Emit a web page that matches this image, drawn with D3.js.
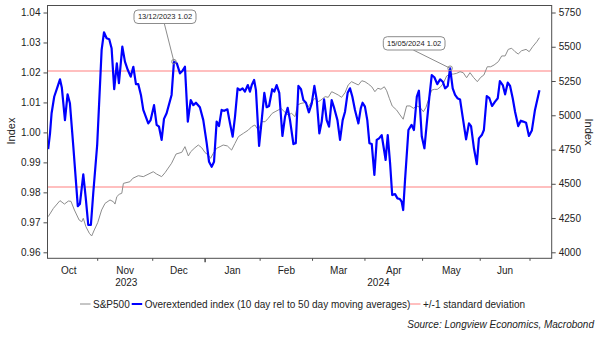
<!DOCTYPE html>
<html><head><meta charset="utf-8">
<script src="https://cdn.jsdelivr.net/npm/d3@7"></script>
<style>
body{margin:0;background:#fff;}
svg{display:block;font-family:"Liberation Sans",Arial,sans-serif;}
</style></head>
<body><svg id="c" width="602" height="338"></svg>
<script>
// trading-day index since 2 Oct 2023
const monthLabels = ["Oct","Nov","Dec","Jan","Feb","Mar","Apr","May","Jun"];
const monthStart  = [0,22,43,63,84,104,124,146,168,187];
const yearLabels = ["2023","2024"];
const leftTicks = [0.96,0.97,0.98,0.99,1.00,1.01,1.02,1.03,1.04];
const rightTicks = [4000,4250,4500,4750,5000,5250,5500,5750];
const bandUpper = 1.0205, bandLower = 0.9818;

const blueDay = [3.1,3.8,4.4,5.4,6.6,7.6,8.3,9.5,10.5,11.4,12.7,14.4,15.2,16.5,17.4,18.4,19.4,20.3,21.8,23.5,24.4,25.4,26.4,27.3,28.3,29.3,30.1,31.4,32.4,33.5,34.6,35.6,36.6,37.5,38.5,39.4,41.3,42.2,43.5,44.5,45.4,46.4,47.3,48.3,50.2,51.1,52.2,53.4,54.4,55.3,56.4,57.5,58.5,59.5,61.0,62.3,63.6,64.5,65.5,66.4,67.4,68.3,69.3,70.3,71.5,72.5,73.5,74.4,75.4,76.3,77.3,78.2,79.3,80.1,80.8,81.7,82.4,83.6,84.6,85.6,86.5,87.4,88.6,89.4,90.3,91.3,92.5,93.5,94.5,95.4,96.7,97.6,98.6,99.6,100.5,101.5,102.6,103.7,104.7,105.6,106.6,107.5,108.4,109.4,110.3,111.3,112.3,113.5,114.5,115.5,116.4,117.4,118.3,119.2,120.2,121.5,122.4,123.1,124.0,124.9,125.7,126.6,127.6,128.5,129.4,130.4,131.0,131.9,132.7,133.6,134.4,135.5,136.4,137.3,138.0,138.6,139.3,140.6,141.8,142.7,143.8,144.6,145.7,146.7,147.6,148.6,149.5,150.5,151.6,152.7,153.7,154.6,155.6,156.5,157.5,158.4,159.3,160.3,161.3,162.6,163.7,164.5,165.6,166.7,167.5,168.6,169.4,170.5,171.5,172.5,173.6,174.7,175.5,176.6,177.5,178.5,179.4,180.4,181.3,182.5,183.5,184.4,185.5,186.6,187.7,188.9,190.6];
const blueVal = [0.9944,0.9997,1.0064,1.0119,1.0150,1.0177,1.0150,1.0041,1.0127,1.0097,0.9952,0.9754,0.9761,0.9860,0.9785,0.9691,0.9691,0.9797,0.9958,1.0275,1.0334,1.0314,1.0311,1.0281,1.0144,1.0230,1.0164,1.0286,1.0236,1.0208,1.0186,1.0219,1.0161,1.0161,1.0125,1.0075,1.0030,1.0041,1.0091,1.0025,1.0019,0.9975,1.0045,1.0064,1.0125,1.0236,1.0230,1.0197,1.0206,1.0219,1.0036,1.0108,1.0091,1.0099,1.0084,1.0041,0.9964,0.9902,0.9885,0.9902,1.0036,1.0021,1.0075,1.0072,1.0077,1.0030,0.9986,1.0052,1.0147,1.0141,1.0147,1.0136,1.0158,1.0136,1.0158,1.0175,1.0141,0.9955,1.0041,1.0132,1.0084,1.0088,1.0144,1.0136,1.0158,1.0132,0.9988,1.0052,1.0082,1.0041,0.9961,0.9964,1.0155,1.0144,1.0108,1.0099,1.0067,1.0097,1.0155,1.0108,0.9997,1.0036,1.0110,1.0041,1.0019,1.0108,1.0080,1.0041,0.9975,1.0041,1.0069,1.0132,1.0147,1.0119,1.0075,1.0030,1.0080,1.0099,1.0086,1.0041,0.9964,0.9961,0.9858,0.9975,0.9980,0.9991,0.9958,0.9908,0.9991,0.9897,0.9791,0.9794,0.9780,0.9778,0.9769,0.9741,0.9841,1.0008,1.0025,1.0008,1.0119,1.0139,0.9986,0.9947,1.0030,1.0119,1.0191,1.0184,1.0161,1.0177,1.0169,1.0147,1.0155,1.0214,1.0147,1.0125,1.0114,1.0110,1.0052,0.9977,1.0030,1.0021,0.9947,0.9894,0.9980,0.9991,1.0008,1.0121,1.0114,1.0088,1.0102,1.0114,1.0171,1.0158,1.0127,1.0166,1.0155,1.0114,1.0069,1.0021,1.0039,1.0036,1.0032,0.9988,1.0006,1.0075,1.0141];

const spxDay = [3.1,5.1,7.6,9.3,10.8,11.8,13.1,14.9,15.9,16.5,17.5,18.8,19.7,20.7,22.0,23.5,24.8,26.7,28.0,28.6,29.3,30.2,31.2,31.8,34.3,35.4,37.5,39.4,43.2,44.5,46.4,47.7,50.2,51.9,54.1,55.3,56.6,57.5,59.1,60.4,61.7,63.0,64.2,65.1,66.1,67.4,68.7,69.9,71.5,73.1,74.4,75.7,77.6,79.5,80.8,82.0,83.3,84.6,85.9,87.1,88.6,89.7,90.9,92.0,93.2,94.7,96.0,97.3,98.3,99.6,101.1,102.4,103.7,104.9,106.2,107.2,108.8,110.0,111.3,112.6,113.8,115.1,116.4,117.6,118.9,120.2,121.5,122.8,124.0,125.3,126.6,127.8,128.9,130.1,131.4,132.3,133.3,134.4,136.1,137.4,138.6,139.9,141.2,142.5,143.8,145.0,146.3,147.3,148.6,149.5,150.5,151.6,152.9,153.9,155.2,156.5,157.8,159.0,160.3,161.5,162.8,164.1,165.4,166.9,168.2,169.4,170.7,172.0,173.3,174.9,176.2,177.5,178.7,180.0,181.3,182.5,183.8,185.5,186.7,188.0,189.6,190.6];
const spxVal = [4260,4321,4377,4352,4374,4372,4309,4236,4223,4248,4187,4139,4119,4163,4216,4309,4357,4382,4369,4352,4406,4423,4431,4503,4515,4540,4559,4552,4588,4571,4552,4581,4650,4717,4730,4771,4703,4734,4763,4783,4763,4727,4710,4686,4722,4759,4771,4783,4776,4746,4795,4844,4868,4892,4917,4929,4892,4953,4953,4978,5014,5026,5038,5051,5026,5002,5014,4990,5075,5087,5092,5063,5099,5124,5099,5111,5136,5131,5172,5160,5148,5131,5165,5221,5245,5233,5221,5252,5245,5228,5208,5172,5197,5190,5208,5179,5124,5068,5038,5002,4971,5068,5068,5051,5068,5058,5026,5058,5136,5184,5189,5189,5208,5233,5287,5300,5301,5306,5318,5311,5274,5311,5277,5245,5277,5294,5354,5354,5367,5391,5433,5433,5481,5489,5464,5447,5471,5481,5464,5500,5537,5566];

const annotations = [
  {day: 51.1, text: "13/12/2023 1.02", bx: 134, by: 10, bw: 62, bh: 13.5, ax: 164.3},
  {day: 156.5, text: "15/05/2024 1.02", bx: 383.3, by: 36.7, bw: 61.7, bh: 13.3, ax: 413.3}
];
const legendItems = [
  {label:"S&P500", color:"#8c8c8c", w:1, x:80},
  {label:"Overextended index (10 day rel to 50 day moving averages)", color:"#0000ff", w:2, x:131.7},
  {label:"+/-1 standard deviation", color:"#ffaaaa", w:1.5, x:410}
];

const svg = d3.select("#c");
const L = 47.5, R = 551.7, T = 5.5, B = 258.3;
const x = d3.scaleLinear().domain([0,187]).range([40.06,530]);
const yL = d3.scaleLinear().domain([0.96,1.04]).range([252.3,12.5]);
const yR = d3.scaleLinear().domain([4000,5750]).range([252.3,12.5]);
const axisColor = "#4d4d4d";

svg.append("clipPath").attr("id","clip").append("rect")
  .attr("x",L).attr("y",T).attr("width",R-L).attr("height",B-T);
const plot = svg.append("g").attr("clip-path","url(#clip)");

[bandUpper, bandLower].forEach(v => {
  plot.append("line").attr("x1",L).attr("x2",R).attr("y1",yL(v)).attr("y2",yL(v))
    .attr("stroke","#ffaaaa").attr("stroke-width",1.5);
});

const spx = spxDay.map((d,i)=>[d,spxVal[i]]);
const blue = blueDay.map((d,i)=>[d,blueVal[i]]);
plot.append("path").datum(spx)
  .attr("d", d3.line().x(d=>x(d[0])).y(d=>yR(d[1])))
  .attr("fill","none").attr("stroke","#8c8c8c").attr("stroke-width",1);
plot.append("path").datum(blue)
  .attr("d", d3.line().x(d=>x(d[0])).y(d=>yL(d[1])))
  .attr("fill","none").attr("stroke","#0000ff").attr("stroke-width",2.2).attr("stroke-linejoin","round");

svg.append("rect").attr("x",L).attr("y",T).attr("width",R-L).attr("height",B-T)
  .attr("fill","none").attr("stroke",axisColor).attr("stroke-width",1);

const gl = svg.append("g").attr("transform",`translate(${L},0)`)
  .call(d3.axisLeft(yL).tickValues(leftTicks).tickFormat(d3.format(".2f")).tickSize(4).tickPadding(3));
const gr = svg.append("g").attr("transform",`translate(${R},0)`)
  .call(d3.axisRight(yR).tickValues(rightTicks).tickFormat(d3.format("d")).tickSize(4).tickPadding(3));
[gl,gr].forEach(g=>{
  g.select(".domain").remove();
  g.selectAll("line").attr("stroke",axisColor);
  g.selectAll("text").attr("font-size",10).attr("fill","#222").attr("font-family","Liberation Sans, Arial, sans-serif");
});

const gb = svg.append("g");
monthStart.slice(1).forEach((m,i)=>{
  const isYear = (i===2);
  gb.append("line").attr("x1",x(m)).attr("x2",x(m)).attr("y1",B).attr("y2",B+(isYear?4:2.5))
    .attr("stroke",axisColor).attr("stroke-width",isYear?1.5:1);
});
monthLabels.forEach((m,i)=>{
  gb.append("text").attr("x",x((monthStart[i]+monthStart[i+1])/2)).attr("y",273.5)
    .attr("text-anchor","middle").attr("font-size",10).attr("fill","#222").text(m);
});
const yearBounds = [[x.invert(L),63],[63,x.invert(R)]];
yearLabels.forEach((yl,i)=>{
  gb.append("text").attr("x",x((yearBounds[i][0]+yearBounds[i][1])/2)).attr("y",285.7)
    .attr("text-anchor","middle").attr("font-size",10).attr("fill","#222").text(yl);
});

svg.append("text").attr("transform","translate(15,131) rotate(-90)")
  .attr("text-anchor","middle").attr("font-size",11).attr("fill","#222").text("Index");
svg.append("text").attr("transform","translate(585,132) rotate(90)")
  .attr("text-anchor","middle").attr("font-size",11).attr("fill","#222").text("Index");

annotations.forEach(a=>{
  const k = blueDay.indexOf(a.day);
  const px = x(blueDay[k]), py = yL(blueVal[k]);
  svg.append("line").attr("x1",a.ax).attr("y1",a.by+a.bh).attr("x2",px).attr("y2",py)
    .attr("stroke","#8c8c8c").attr("stroke-width",1);
  svg.append("circle").attr("cx",px).attr("cy",py).attr("r",2.3)
    .attr("fill","none").attr("stroke","#8c8c8c").attr("stroke-width",1);
  svg.append("rect").attr("x",a.bx).attr("y",a.by).attr("width",a.bw).attr("height",a.bh)
    .attr("rx",4).attr("fill","#fff").attr("stroke","#8c8c8c").attr("stroke-width",1);
  svg.append("text").attr("x",a.bx+a.bw/2).attr("y",a.by+a.bh/2+2.7)
    .attr("text-anchor","middle").attr("font-size",7.5).attr("fill","#222").text(a.text);
});

const lg = svg.append("g");
legendItems.forEach(it=>{
  lg.append("line").attr("x1",it.x).attr("x2",it.x+10.5).attr("y1",304).attr("y2",304)
    .attr("stroke",it.color).attr("stroke-width",it.w);
  lg.append("text").attr("x",it.x+13).attr("y",307.6).attr("font-size",10).attr("fill","#222").text(it.label);
});
svg.append("text").attr("x",594).attr("y",328).attr("text-anchor","end")
  .attr("font-size",10).attr("font-style","italic").attr("fill","#222")
  .text("Source: Longview Economics, Macrobond");
</script></body></html>
